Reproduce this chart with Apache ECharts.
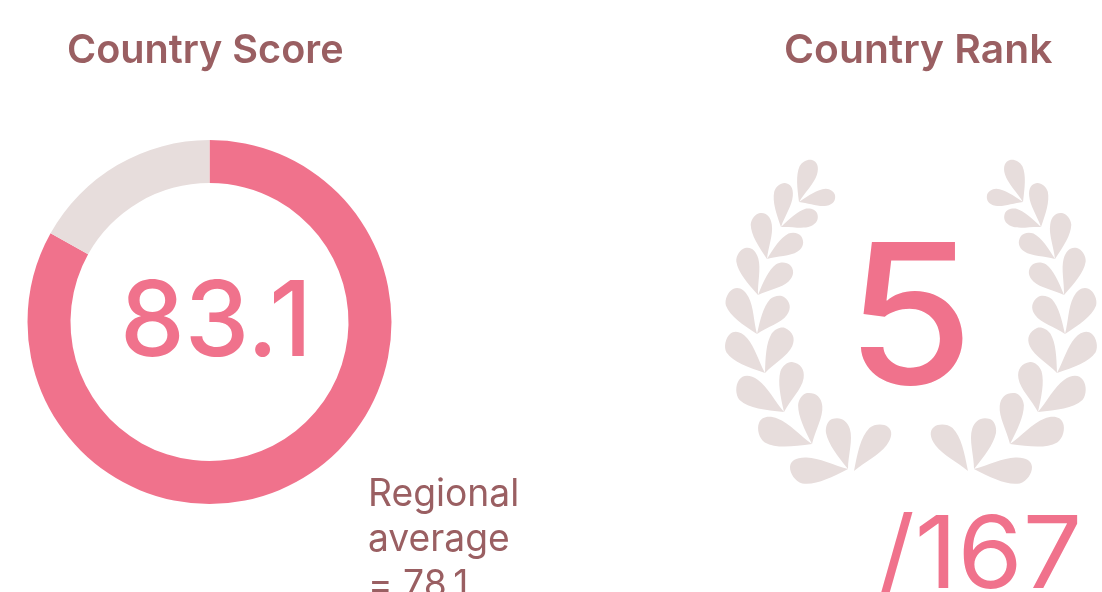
<!DOCTYPE html>
<html>
<head>
<meta charset="utf-8">
<title>Country Score and Rank</title>
<script src="https://cdn.jsdelivr.net/npm/echarts@6/dist/echarts.min.js"></script>
<style>
  html, body { margin: 0; padding: 0; background: #fff; overflow: hidden; }
  #chart { width: 1102px; height: 592px; }
</style>
</head>
<body>
<div id="chart"></div>
<script>
const scoreTitle = 'Country Score'
const rankTitle = 'Country Rank'
const scoreValue = 83.1
const scoreMax = 100
const regionalAverage = 78.1
const rankValue = 5
const rankTotal = 167

const PINK = '#f0728c'
const PALE = '#e7dddc'
const BROWN = '#9a5f62'
const FONT = 'Inter'

// left half of the wreath: base x, base y, tip x, tip y, outer width, inner width
const leaves = [
  [799, 202, 812, 160, 10, 9], [799, 202, 835, 195, 8, 9],
  [781, 227, 785, 183, 10, 9], [781, 227, 817, 213, 8, 10],
  [767, 259, 760, 213, 11, 10], [767, 259, 801, 236, 9, 11],
  [758, 295, 745, 248, 12, 10], [758, 295, 790, 265, 10, 11],
  [757, 334, 733, 289, 14, 10], [757, 334, 784, 297, 10, 13],
  [765, 373, 730, 334, 15, 10], [765, 373, 785, 328, 10, 14],
  [784, 412, 739, 380, 16, 11], [784, 412, 792, 362, 10, 14],
  [812, 444, 759, 423, 16, 11], [812, 444, 807, 393, 10, 14],
  [848, 469, 790, 467, 16, 10], [848, 469, 832, 419, 10, 14],
  [854, 471, 888, 427, 14, 10]
]
const CENTER_X = 911

// teardrop leaf, pointed at the base and blunt at the tip
const leafPath = (l, mirror) => {
  const [bx, by, tx, ty, w1, w2] = l
  const dx = tx - bx, dy = ty - by
  const len = Math.hypot(dx, dy)
  const ux = dx / len, uy = dy / len
  // outer side is the one further from the wreath centre
  let nx = -uy, ny = ux
  if (Math.abs(bx + dx / 2 + nx - CENTER_X) < Math.abs(bx + dx / 2 - CENTER_X)) { nx = -nx; ny = -ny }
  const pt = (u, v) => {
    const x = bx + ux * u * len + nx * v
    const y = by + uy * u * len + ny * v
    return (mirror ? 2 * CENTER_X - x : x).toFixed(1) + ' ' + y.toFixed(1)
  }
  return 'M' + pt(0, 0)
    + 'C' + pt(.3, .6 * w1) + ' ' + pt(.55, 1.1 * w1) + ' ' + pt(.78, w1)
    + 'C' + pt(.9, .9 * w1) + ' ' + pt(1, .4 * w1) + ' ' + pt(1, 0)
    + 'C' + pt(1, -.6 * w2) + ' ' + pt(.9, -w2) + ' ' + pt(.72, -w2)
    + 'C' + pt(.5, -w2) + ' ' + pt(.25, -.3 * w2) + ' ' + pt(0, 0) + 'Z'
}

// the two zero length subpaths pin the bounding box to the canvas so nothing gets rescaled
const wreath = 'M0 0L0 0M1102 592L1102 592'
  + leaves.map(l => leafPath(l, false) + leafPath(l, true)).join('')

const text = (left, top, str, size, color, weight, scaleX) => ({
  type: 'text',
  x: left,
  y: top,
  scaleX: scaleX || 1,
  silent: true,
  style: {
    text: str,
    fill: color,
    font: (weight || 400) + ' ' + size + 'px ' + FONT,
    textAlign: 'left',
    textVerticalAlign: 'bottom'
  }
})

const option = {
  animation: false,
  backgroundColor: '#fff',
  series: [
    {
      type: 'pie',
      center: [209.5, 322],
      radius: [139, 182],
      startAngle: 90,
      clockwise: true,
      silent: true,
      label: { show: false },
      labelLine: { show: false },
      data: [
        { value: scoreValue, itemStyle: { color: PINK } },
        { value: scoreMax - scoreValue, itemStyle: { color: PALE } }
      ]
    },
    {
      type: 'custom',
      coordinateSystem: 'none',
      silent: true,
      data: [0],
      renderItem: () => ({
        type: 'path',
        shape: { pathData: wreath, x: 0, y: 0, width: 1102, height: 592, layout: 'cover' },
        style: { fill: PALE }
      })
    }
  ],
  graphic: [
    text(67, 71, scoreTitle, 40, BROWN, 600, .99),
    text(784, 71, rankTitle, 40, BROWN, 600, 1.02),
    text(120, 377, String(scoreValue), 105, PINK, 500, .98),
    text(846, 423, String(rankValue), 195, PINK, 500, 1.06),
    text(877, 608, '/' + rankTotal, 100, PINK, 400, 1.05),
    text(368, 514, 'Regional', 38, BROWN, 400, .98),
    text(368, 559, 'average', 38, BROWN, 400, .98),
    text(368, 605, '= ' + regionalAverage, 38, BROWN, 400, .98)
  ]
}

echarts.init(document.getElementById('chart'), null, { renderer: 'canvas' }).setOption(option)
</script>
</body>
</html>
